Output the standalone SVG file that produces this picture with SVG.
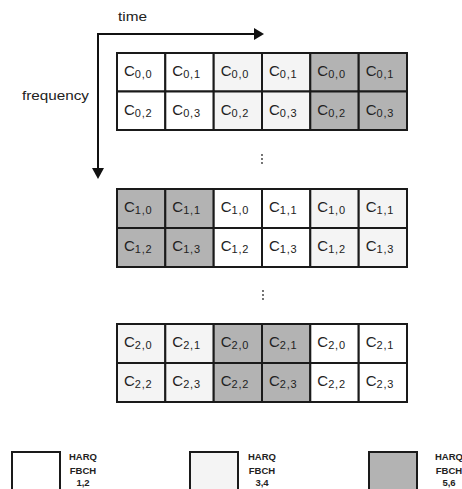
<svg xmlns="http://www.w3.org/2000/svg" width="462" height="489" viewBox="0 0 462 489">
<style>
.w{fill:#ffffff}.l{fill:#f4f4f4}.d{fill:#b3b3b3}
.cell{stroke:#1a1a1a;stroke-width:2}
.c{font-family:"Liberation Sans",Arial,sans-serif;font-size:15px;fill:#222}
.s{font-size:11px;letter-spacing:0.8px}
.lbl{font-family:"Liberation Sans",Arial,sans-serif;font-size:13px;fill:#222}
.lg{font-family:"Liberation Sans",Arial,sans-serif;font-size:9.5px;font-weight:bold;fill:#222;text-anchor:middle}
.ax{stroke:#111;stroke-width:2;fill:none}
.ah{fill:#111}
.dot{fill:#333}
</style>
<g id="axes">
<path class="ax" d="M98,170 V34 H256"/>
<polygon class="ah" points="254,28 264,34 254,40"/>
<polygon class="ah" points="92,168 104,168 98,179"/>
<text class="lbl" x="118" y="21" textLength="29" lengthAdjust="spacingAndGlyphs">time</text>
<text class="lbl" x="22" y="100" textLength="67" lengthAdjust="spacingAndGlyphs">frequency</text>
</g>
<g id="grid0">
<rect class="cell w" x="117" y="53" width="48.3" height="38.5"/>
<rect class="cell w" x="165.3" y="53" width="48.4" height="38.5"/>
<rect class="cell l" x="213.7" y="53" width="48.3" height="38.5"/>
<rect class="cell l" x="262" y="53" width="48.3" height="38.5"/>
<rect class="cell d" x="310.3" y="53" width="48.4" height="38.5"/>
<rect class="cell d" x="358.7" y="53" width="48.3" height="38.5"/>
<rect class="cell w" x="117" y="91.5" width="48.3" height="38.5"/>
<rect class="cell w" x="165.3" y="91.5" width="48.4" height="38.5"/>
<rect class="cell l" x="213.7" y="91.5" width="48.3" height="38.5"/>
<rect class="cell l" x="262" y="91.5" width="48.3" height="38.5"/>
<rect class="cell d" x="310.3" y="91.5" width="48.4" height="38.5"/>
<rect class="cell d" x="358.7" y="91.5" width="48.3" height="38.5"/>
<text class="c" x="124" y="76">C<tspan class="s" dy="2">0,0</tspan></text>
<text class="c" x="172.3" y="76">C<tspan class="s" dy="2">0,1</tspan></text>
<text class="c" x="220.7" y="76">C<tspan class="s" dy="2">0,0</tspan></text>
<text class="c" x="269" y="76">C<tspan class="s" dy="2">0,1</tspan></text>
<text class="c" x="317.3" y="76">C<tspan class="s" dy="2">0,0</tspan></text>
<text class="c" x="365.7" y="76">C<tspan class="s" dy="2">0,1</tspan></text>
<text class="c" x="124" y="115">C<tspan class="s" dy="2">0,2</tspan></text>
<text class="c" x="172.3" y="115">C<tspan class="s" dy="2">0,3</tspan></text>
<text class="c" x="220.7" y="115">C<tspan class="s" dy="2">0,2</tspan></text>
<text class="c" x="269" y="115">C<tspan class="s" dy="2">0,3</tspan></text>
<text class="c" x="317.3" y="115">C<tspan class="s" dy="2">0,2</tspan></text>
<text class="c" x="365.7" y="115">C<tspan class="s" dy="2">0,3</tspan></text>
</g>
<g id="dots1">
<circle class="dot" cx="262" cy="155" r="0.9"/><circle class="dot" cx="262" cy="159" r="0.9"/><circle class="dot" cx="262" cy="163" r="0.9"/>
</g>
<g id="grid1">
<rect class="cell d" x="117" y="189" width="48.3" height="39"/>
<rect class="cell d" x="165.3" y="189" width="48.4" height="39"/>
<rect class="cell w" x="213.7" y="189" width="48.3" height="39"/>
<rect class="cell w" x="262" y="189" width="48.3" height="39"/>
<rect class="cell l" x="310.3" y="189" width="48.4" height="39"/>
<rect class="cell l" x="358.7" y="189" width="48.3" height="39"/>
<rect class="cell d" x="117" y="228" width="48.3" height="39"/>
<rect class="cell d" x="165.3" y="228" width="48.4" height="39"/>
<rect class="cell w" x="213.7" y="228" width="48.3" height="39"/>
<rect class="cell w" x="262" y="228" width="48.3" height="39"/>
<rect class="cell l" x="310.3" y="228" width="48.4" height="39"/>
<rect class="cell l" x="358.7" y="228" width="48.3" height="39"/>
<text class="c" x="124" y="212">C<tspan class="s" dy="2">1,0</tspan></text>
<text class="c" x="172.3" y="212">C<tspan class="s" dy="2">1,1</tspan></text>
<text class="c" x="220.7" y="212">C<tspan class="s" dy="2">1,0</tspan></text>
<text class="c" x="269" y="212">C<tspan class="s" dy="2">1,1</tspan></text>
<text class="c" x="317.3" y="212">C<tspan class="s" dy="2">1,0</tspan></text>
<text class="c" x="365.7" y="212">C<tspan class="s" dy="2">1,1</tspan></text>
<text class="c" x="124" y="251">C<tspan class="s" dy="2">1,2</tspan></text>
<text class="c" x="172.3" y="251">C<tspan class="s" dy="2">1,3</tspan></text>
<text class="c" x="220.7" y="251">C<tspan class="s" dy="2">1,2</tspan></text>
<text class="c" x="269" y="251">C<tspan class="s" dy="2">1,3</tspan></text>
<text class="c" x="317.3" y="251">C<tspan class="s" dy="2">1,2</tspan></text>
<text class="c" x="365.7" y="251">C<tspan class="s" dy="2">1,3</tspan></text>
</g>
<g id="dots2">
<circle class="dot" cx="263" cy="291" r="0.9"/><circle class="dot" cx="263" cy="295" r="0.9"/><circle class="dot" cx="263" cy="299" r="0.9"/>
</g>
<g id="grid2">
<rect class="cell l" x="117" y="324" width="48.3" height="39"/>
<rect class="cell l" x="165.3" y="324" width="48.4" height="39"/>
<rect class="cell d" x="213.7" y="324" width="48.3" height="39"/>
<rect class="cell d" x="262" y="324" width="48.3" height="39"/>
<rect class="cell w" x="310.3" y="324" width="48.4" height="39"/>
<rect class="cell w" x="358.7" y="324" width="48.3" height="39"/>
<rect class="cell l" x="117" y="363" width="48.3" height="39"/>
<rect class="cell l" x="165.3" y="363" width="48.4" height="39"/>
<rect class="cell d" x="213.7" y="363" width="48.3" height="39"/>
<rect class="cell d" x="262" y="363" width="48.3" height="39"/>
<rect class="cell w" x="310.3" y="363" width="48.4" height="39"/>
<rect class="cell w" x="358.7" y="363" width="48.3" height="39"/>
<text class="c" x="124" y="347">C<tspan class="s" dy="2">2,0</tspan></text>
<text class="c" x="172.3" y="347">C<tspan class="s" dy="2">2,1</tspan></text>
<text class="c" x="220.7" y="347">C<tspan class="s" dy="2">2,0</tspan></text>
<text class="c" x="269" y="347">C<tspan class="s" dy="2">2,1</tspan></text>
<text class="c" x="317.3" y="347">C<tspan class="s" dy="2">2,0</tspan></text>
<text class="c" x="365.7" y="347">C<tspan class="s" dy="2">2,1</tspan></text>
<text class="c" x="124" y="386">C<tspan class="s" dy="2">2,2</tspan></text>
<text class="c" x="172.3" y="386">C<tspan class="s" dy="2">2,3</tspan></text>
<text class="c" x="220.7" y="386">C<tspan class="s" dy="2">2,2</tspan></text>
<text class="c" x="269" y="386">C<tspan class="s" dy="2">2,3</tspan></text>
<text class="c" x="317.3" y="386">C<tspan class="s" dy="2">2,2</tspan></text>
<text class="c" x="365.7" y="386">C<tspan class="s" dy="2">2,3</tspan></text>
</g>
<g id="legend1">
<rect class="cell w" x="12" y="452" width="48" height="45"/>
<text class="lg" x="83" y="460">HARQ</text>
<text class="lg" x="83" y="474">FBCH</text>
<text class="lg" x="83" y="486">1,2</text>
</g>
<g id="legend2">
<rect class="cell l" x="190" y="452" width="48" height="45"/>
<text class="lg" x="262" y="460">HARQ</text>
<text class="lg" x="262" y="474">FBCH</text>
<text class="lg" x="262" y="486">3,4</text>
</g>
<g id="legend3">
<rect class="cell d" x="369" y="452" width="48" height="45"/>
<text class="lg" x="449" y="460">HARQ</text>
<text class="lg" x="449" y="474">FBCH</text>
<text class="lg" x="449" y="486">5,6</text>
</g>
</svg>
